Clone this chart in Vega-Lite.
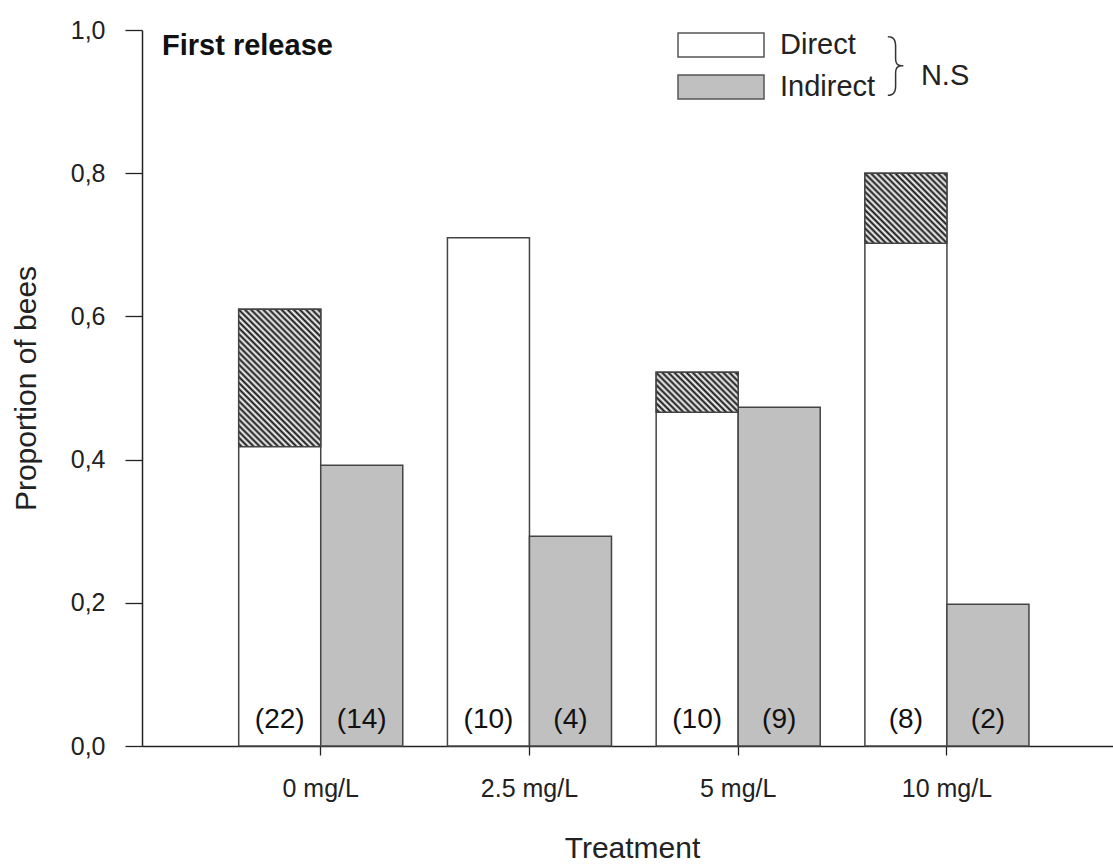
{
  "$schema": "https://vega.github.io/schema/vega-lite/v6.json",
  "width": 971,
  "height": 716,
  "autosize": {"type": "none"},
  "padding": {"left": 142, "top": 30, "right": 0, "bottom": 118},
  "background": "white",
  "config": {"view": {"stroke": null}, "font": "Liberation Sans"},
  "title": {"text": "First release", "anchor": "start", "frame": "group", "offset": -66, "dx": 20, "baseline": "alphabetic", "fontSize": 29, "fontWeight": "bold", "font": "Liberation Sans", "color": "#111"},
  "datasets": {
    "bars": [
      {"treatment": "0 mg/L", "group": "Direct", "value": 0.61, "count": "(22)"},
      {"treatment": "0 mg/L", "group": "Indirect", "value": 0.392, "count": "(14)"},
      {"treatment": "2.5 mg/L", "group": "Direct", "value": 0.71, "count": "(10)"},
      {"treatment": "2.5 mg/L", "group": "Indirect", "value": 0.293, "count": "(4)"},
      {"treatment": "5 mg/L", "group": "Direct", "value": 0.522, "count": "(10)"},
      {"treatment": "5 mg/L", "group": "Indirect", "value": 0.473, "count": "(9)"},
      {"treatment": "10 mg/L", "group": "Direct", "value": 0.8, "count": "(8)"},
      {"treatment": "10 mg/L", "group": "Indirect", "value": 0.198, "count": "(2)"}
    ],
    "hatch": [
      {"treatment": "0 mg/L", "group": "Direct", "low": 0.418, "high": 0.61},
      {"treatment": "5 mg/L", "group": "Direct", "low": 0.466, "high": 0.522},
      {"treatment": "10 mg/L", "group": "Direct", "low": 0.702, "high": 0.8}
    ],
    "note": [{"label": "N.S", "brace": "}"}]
  },
  "layer": [
    {
      "data": {"name": "bars"},
      "mark": {"type": "bar", "stroke": "#444", "strokeWidth": 1.5},
      "encoding": {
        "x": {
          "field": "treatment", "type": "nominal",
          "sort": ["0 mg/L", "2.5 mg/L", "5 mg/L", "10 mg/L"],
          "scale": {"paddingInner": 0.214, "paddingOuter": 0.433, "align": 0.535},
          "axis": {
            "title": "Treatment", "titleFontSize": 30, "titleFont": "Liberation Sans", "titleFontWeight": "normal", "titleColor": "#222",
            "titleX": 490, "titleY": 111, "titleAlign": "center", "titleBaseline": "alphabetic",
            "labelAngle": 0, "labelFontSize": 25, "labelFont": "Liberation Sans", "labelColor": "#222", "labelPadding": 21,
            "tickSize": 9, "tickColor": "#222", "tickWidth": 1.3, "domainColor": "#222", "domainWidth": 1.5, "grid": false
          }
        },
        "xOffset": {"field": "group", "type": "nominal", "sort": ["Direct", "Indirect"], "scale": {"paddingInner": 0, "paddingOuter": 0}},
        "y": {
          "field": "value", "type": "quantitative",
          "scale": {"domain": [0, 1], "nice": false},
          "axis": {
            "title": "Proportion of bees", "titleFontSize": 30, "titleFont": "Liberation Sans", "titleFontWeight": "normal", "titleColor": "#222",
            "titleX": -107, "titleY": 358, "titleAlign": "center", "titleBaseline": "alphabetic", "titleAngle": -90,
            "values": [0, 0.2, 0.4, 0.6, 0.8, 1], "format": ".1f", "labelExpr": "replace(datum.label, '.', ',')",
            "labelFontSize": 25, "labelFont": "Liberation Sans", "labelColor": "#222", "labelPadding": 20,
            "tickSize": 17, "tickColor": "#222", "tickWidth": 1.3, "domainColor": "#222", "domainWidth": 1.5, "grid": false
          }
        },
        "fill": {
          "field": "group", "type": "nominal",
          "scale": {"domain": ["Direct", "Indirect"], "range": ["#ffffff", "#c0c0c0"]},
          "legend": {
            "title": null, "orient": "none", "legendX": 535, "legendY": -6,
            "symbolType": "M-1,-0.279H1V0.279H-1Z", "symbolSize": 7396,
            "symbolStrokeColor": "#555", "symbolStrokeWidth": 1.5, "symbolOpacity": 1,
            "clipHeight": 42, "rowPadding": 0, "padding": 0,
            "labelFontSize": 29, "labelFont": "Liberation Sans", "labelColor": "#222", "labelOffset": 15
          }
        }
      }
    },
    {
      "data": {"name": "hatch"},
      "transform": [{"filter": {"field": "treatment", "equal": "0 mg/L"}}],
      "mark": {
        "type": "bar", "stroke": "#444", "strokeWidth": 1.5,
        "fill": {
          "gradient": "linear", "x1": 0.1488, "y1": 1.0888, "x2": 0.8512, "y2": -0.0888,
          "stops": [
            {"offset": 0, "color": "#fff"}, {"offset": 0.0139, "color": "#111"}, {"offset": 0.0278, "color": "#fff"}, {"offset": 0.0417, "color": "#111"},
            {"offset": 0.0556, "color": "#fff"}, {"offset": 0.0694, "color": "#111"}, {"offset": 0.0833, "color": "#fff"}, {"offset": 0.0972, "color": "#111"},
            {"offset": 0.1111, "color": "#fff"}, {"offset": 0.125, "color": "#111"}, {"offset": 0.1389, "color": "#fff"}, {"offset": 0.1528, "color": "#111"},
            {"offset": 0.1667, "color": "#fff"}, {"offset": 0.1806, "color": "#111"}, {"offset": 0.1944, "color": "#fff"}, {"offset": 0.2083, "color": "#111"},
            {"offset": 0.2222, "color": "#fff"}, {"offset": 0.2361, "color": "#111"}, {"offset": 0.25, "color": "#fff"}, {"offset": 0.2639, "color": "#111"},
            {"offset": 0.2778, "color": "#fff"}, {"offset": 0.2917, "color": "#111"}, {"offset": 0.3056, "color": "#fff"}, {"offset": 0.3194, "color": "#111"},
            {"offset": 0.3333, "color": "#fff"}, {"offset": 0.3472, "color": "#111"}, {"offset": 0.3611, "color": "#fff"}, {"offset": 0.375, "color": "#111"},
            {"offset": 0.3889, "color": "#fff"}, {"offset": 0.4028, "color": "#111"}, {"offset": 0.4167, "color": "#fff"}, {"offset": 0.4306, "color": "#111"},
            {"offset": 0.4444, "color": "#fff"}, {"offset": 0.4583, "color": "#111"}, {"offset": 0.4722, "color": "#fff"}, {"offset": 0.4861, "color": "#111"},
            {"offset": 0.5, "color": "#fff"}, {"offset": 0.5139, "color": "#111"}, {"offset": 0.5278, "color": "#fff"}, {"offset": 0.5417, "color": "#111"},
            {"offset": 0.5556, "color": "#fff"}, {"offset": 0.5694, "color": "#111"}, {"offset": 0.5833, "color": "#fff"}, {"offset": 0.5972, "color": "#111"},
            {"offset": 0.6111, "color": "#fff"}, {"offset": 0.625, "color": "#111"}, {"offset": 0.6389, "color": "#fff"}, {"offset": 0.6528, "color": "#111"},
            {"offset": 0.6667, "color": "#fff"}, {"offset": 0.6806, "color": "#111"}, {"offset": 0.6944, "color": "#fff"}, {"offset": 0.7083, "color": "#111"},
            {"offset": 0.7222, "color": "#fff"}, {"offset": 0.7361, "color": "#111"}, {"offset": 0.75, "color": "#fff"}, {"offset": 0.7639, "color": "#111"},
            {"offset": 0.7778, "color": "#fff"}, {"offset": 0.7917, "color": "#111"}, {"offset": 0.8056, "color": "#fff"}, {"offset": 0.8194, "color": "#111"},
            {"offset": 0.8333, "color": "#fff"}, {"offset": 0.8472, "color": "#111"}, {"offset": 0.8611, "color": "#fff"}, {"offset": 0.875, "color": "#111"},
            {"offset": 0.8889, "color": "#fff"}, {"offset": 0.9028, "color": "#111"}, {"offset": 0.9167, "color": "#fff"}, {"offset": 0.9306, "color": "#111"},
            {"offset": 0.9444, "color": "#fff"}, {"offset": 0.9583, "color": "#111"}, {"offset": 0.9722, "color": "#fff"}, {"offset": 0.9861, "color": "#111"},
            {"offset": 1, "color": "#fff"}
          ]
        }
      },
      "encoding": {
        "x": {"field": "treatment", "type": "nominal", "sort": ["0 mg/L", "2.5 mg/L", "5 mg/L", "10 mg/L"]},
        "xOffset": {"field": "group", "type": "nominal", "sort": ["Direct", "Indirect"]},
        "y": {"field": "low", "type": "quantitative"},
        "y2": {"field": "high"}
      }
    },
    {
      "data": {"name": "hatch"},
      "transform": [{"filter": {"field": "treatment", "equal": "5 mg/L"}}],
      "mark": {
        "type": "bar", "stroke": "#444", "strokeWidth": 1.5,
        "fill": {
          "gradient": "linear", "x1": -0.1008, "y1": 0.7938, "x2": 1.1008, "y2": 0.2062,
          "stops": [
            {"offset": 0, "color": "#fff"}, {"offset": 0.025, "color": "#111"}, {"offset": 0.05, "color": "#fff"}, {"offset": 0.075, "color": "#111"},
            {"offset": 0.1, "color": "#fff"}, {"offset": 0.125, "color": "#111"}, {"offset": 0.15, "color": "#fff"}, {"offset": 0.175, "color": "#111"},
            {"offset": 0.2, "color": "#fff"}, {"offset": 0.225, "color": "#111"}, {"offset": 0.25, "color": "#fff"}, {"offset": 0.275, "color": "#111"},
            {"offset": 0.3, "color": "#fff"}, {"offset": 0.325, "color": "#111"}, {"offset": 0.35, "color": "#fff"}, {"offset": 0.375, "color": "#111"},
            {"offset": 0.4, "color": "#fff"}, {"offset": 0.425, "color": "#111"}, {"offset": 0.45, "color": "#fff"}, {"offset": 0.475, "color": "#111"},
            {"offset": 0.5, "color": "#fff"}, {"offset": 0.525, "color": "#111"}, {"offset": 0.55, "color": "#fff"}, {"offset": 0.575, "color": "#111"},
            {"offset": 0.6, "color": "#fff"}, {"offset": 0.625, "color": "#111"}, {"offset": 0.65, "color": "#fff"}, {"offset": 0.675, "color": "#111"},
            {"offset": 0.7, "color": "#fff"}, {"offset": 0.725, "color": "#111"}, {"offset": 0.75, "color": "#fff"}, {"offset": 0.775, "color": "#111"},
            {"offset": 0.8, "color": "#fff"}, {"offset": 0.825, "color": "#111"}, {"offset": 0.85, "color": "#fff"}, {"offset": 0.875, "color": "#111"},
            {"offset": 0.9, "color": "#fff"}, {"offset": 0.925, "color": "#111"}, {"offset": 0.95, "color": "#fff"}, {"offset": 0.975, "color": "#111"},
            {"offset": 1, "color": "#fff"}
          ]
        }
      },
      "encoding": {
        "x": {"field": "treatment", "type": "nominal", "sort": ["0 mg/L", "2.5 mg/L", "5 mg/L", "10 mg/L"]},
        "xOffset": {"field": "group", "type": "nominal", "sort": ["Direct", "Indirect"]},
        "y": {"field": "low", "type": "quantitative"},
        "y2": {"field": "high"}
      }
    },
    {
      "data": {"name": "hatch"},
      "transform": [{"filter": {"field": "treatment", "equal": "10 mg/L"}}],
      "mark": {
        "type": "bar", "stroke": "#444", "strokeWidth": 1.5,
        "fill": {
          "gradient": "linear", "x1": -0.0355, "y1": 0.9585, "x2": 1.0355, "y2": 0.0415,
          "stops": [
            {"offset": 0, "color": "#fff"}, {"offset": 0.02, "color": "#111"}, {"offset": 0.04, "color": "#fff"}, {"offset": 0.06, "color": "#111"},
            {"offset": 0.08, "color": "#fff"}, {"offset": 0.1, "color": "#111"}, {"offset": 0.12, "color": "#fff"}, {"offset": 0.14, "color": "#111"},
            {"offset": 0.16, "color": "#fff"}, {"offset": 0.18, "color": "#111"}, {"offset": 0.2, "color": "#fff"}, {"offset": 0.22, "color": "#111"},
            {"offset": 0.24, "color": "#fff"}, {"offset": 0.26, "color": "#111"}, {"offset": 0.28, "color": "#fff"}, {"offset": 0.3, "color": "#111"},
            {"offset": 0.32, "color": "#fff"}, {"offset": 0.34, "color": "#111"}, {"offset": 0.36, "color": "#fff"}, {"offset": 0.38, "color": "#111"},
            {"offset": 0.4, "color": "#fff"}, {"offset": 0.42, "color": "#111"}, {"offset": 0.44, "color": "#fff"}, {"offset": 0.46, "color": "#111"},
            {"offset": 0.48, "color": "#fff"}, {"offset": 0.5, "color": "#111"}, {"offset": 0.52, "color": "#fff"}, {"offset": 0.54, "color": "#111"},
            {"offset": 0.56, "color": "#fff"}, {"offset": 0.58, "color": "#111"}, {"offset": 0.6, "color": "#fff"}, {"offset": 0.62, "color": "#111"},
            {"offset": 0.64, "color": "#fff"}, {"offset": 0.66, "color": "#111"}, {"offset": 0.68, "color": "#fff"}, {"offset": 0.7, "color": "#111"},
            {"offset": 0.72, "color": "#fff"}, {"offset": 0.74, "color": "#111"}, {"offset": 0.76, "color": "#fff"}, {"offset": 0.78, "color": "#111"},
            {"offset": 0.8, "color": "#fff"}, {"offset": 0.82, "color": "#111"}, {"offset": 0.84, "color": "#fff"}, {"offset": 0.86, "color": "#111"},
            {"offset": 0.88, "color": "#fff"}, {"offset": 0.9, "color": "#111"}, {"offset": 0.92, "color": "#fff"}, {"offset": 0.94, "color": "#111"},
            {"offset": 0.96, "color": "#fff"}, {"offset": 0.98, "color": "#111"}, {"offset": 1, "color": "#fff"}
          ]
        }
      },
      "encoding": {
        "x": {"field": "treatment", "type": "nominal", "sort": ["0 mg/L", "2.5 mg/L", "5 mg/L", "10 mg/L"]},
        "xOffset": {"field": "group", "type": "nominal", "sort": ["Direct", "Indirect"]},
        "y": {"field": "low", "type": "quantitative"},
        "y2": {"field": "high"}
      }
    },
    {
      "data": {"name": "bars"},
      "mark": {"type": "text", "fontSize": 28, "font": "Liberation Sans", "color": "#111", "baseline": "alphabetic", "dy": -18},
      "encoding": {
        "x": {"field": "treatment", "type": "nominal", "sort": ["0 mg/L", "2.5 mg/L", "5 mg/L", "10 mg/L"]},
        "xOffset": {"field": "group", "type": "nominal", "sort": ["Direct", "Indirect"]},
        "y": {"datum": 0, "type": "quantitative"},
        "text": {"field": "count"}
      }
    },
    {
      "data": {"name": "note"},
      "mark": {"type": "text", "fontSize": 66, "font": "Inter", "fontWeight": 100, "color": "#333", "align": "center", "baseline": "middle", "dx": -51},
      "encoding": {
        "x": {"datum": "10 mg/L"},
        "y": {"datum": 0.948, "type": "quantitative"},
        "text": {"field": "brace"}
      }
    },
    {
      "data": {"name": "note"},
      "mark": {"type": "text", "fontSize": 29, "font": "Liberation Sans", "color": "#222", "align": "left", "baseline": "alphabetic", "dx": -26},
      "encoding": {
        "x": {"datum": "10 mg/L"},
        "y": {"datum": 0.923, "type": "quantitative"},
        "text": {"field": "label"}
      }
    }
  ]
}
